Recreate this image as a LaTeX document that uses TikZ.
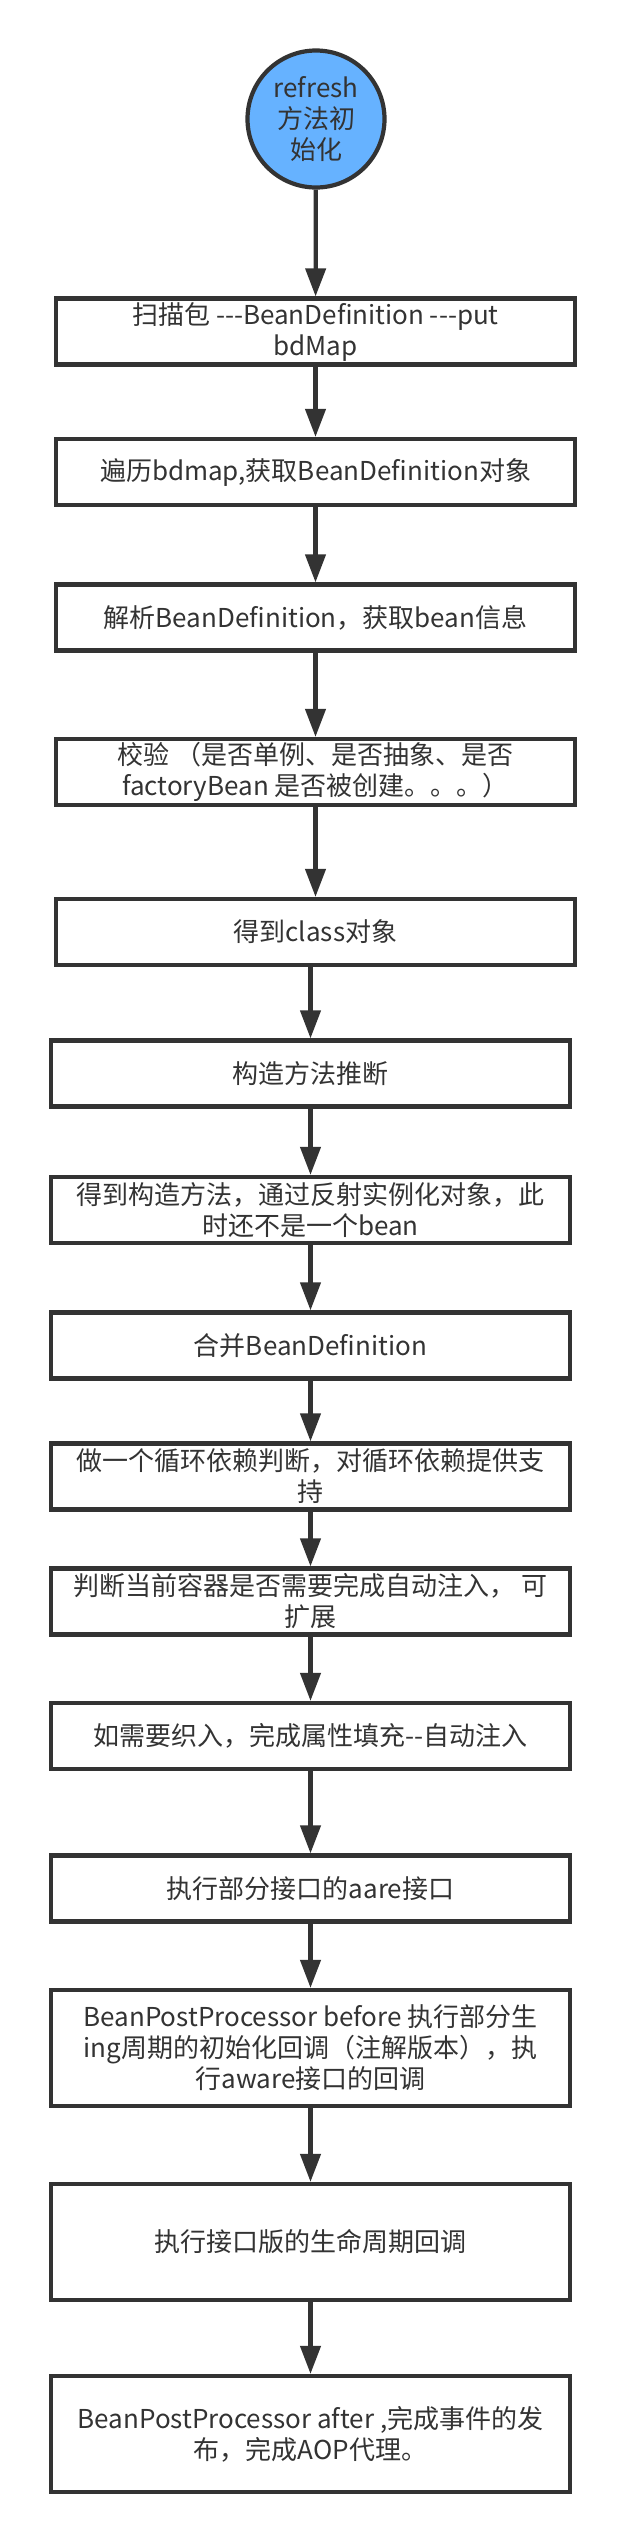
\documentclass[tikz,border=0pt]{standalone}
\usepackage{fontspec}
\newfontfamily\cjkfont{Noto Sans CJK SC}
\usetikzlibrary{arrows.meta}
\definecolor{ink}{HTML}{333333}
\definecolor{bluefill}{HTML}{66B2FF}
\begin{document}
\begin{tikzpicture}[x=1pt,y=-1pt,
  txt/.style={text=ink, align=center, font=\cjkfont\fontsize{26}{31}\selectfont},
  stepbox/.style={txt, draw=ink, line width=4.2pt, fill=white, minimum width=519pt, minimum height=66pt, inner sep=0pt},
  tallbox/.style={stepbox, minimum height=116pt},
  startnode/.style={txt, circle, draw=ink, fill=bluefill, line width=4.2pt, minimum size=137pt, inner sep=0pt},
  flow/.style={draw=ink, line width=4.2pt, -{Triangle[length=28pt,width=20pt]}}]
\useasboundingbox (0,0) rectangle (626,2544);
\fill[white] (0,0) rectangle (626,2544);

\node[startnode] (s) at (316,119) {refresh\\方法初\\始化};

\node[stepbox] (b1) at (315.5,331.5) {扫描包 ---BeanDefinition ---put\\bdMap};
\node[stepbox] (b2) at (315.5,472) {遍历bdmap,获取BeanDefinition对象};
\node[stepbox] (b3) at (315.5,617.5) {解析BeanDefinition，获取bean信息};
\node[stepbox] (b4) at (315.5,772) {校验 （是否单例、是否抽象、是否\\factoryBean 是否被创建。。。）};
\node[stepbox] (b5) at (315.5,932) {得到class对象};
\node[stepbox] (b6) at (310.5,1073.5) {构造方法推断};
\node[stepbox] (b7) at (310.5,1210) {得到构造方法，通过反射实例化对象，此\\时还不是一个bean};
\node[stepbox] (b8) at (310.5,1345.5) {合并BeanDefinition};
\node[stepbox] (b9) at (310.5,1476.5) {做一个循环依赖判断，对循环依赖提供支\\持};
\node[stepbox] (b10) at (310.5,1601.5) {判断当前容器是否需要完成自动注入， 可\\扩展};
\node[stepbox] (b11) at (310.5,1736) {如需要织入，完成属性填充--自动注入};
\node[stepbox] (b12) at (310.5,1888.5) {执行部分接口的aare接口};
\node[tallbox] (b13) at (310.5,2048) {BeanPostProcessor before 执行部分生\\ing周期的初始化回调（注解版本），执\\行aware接口的回调};
\node[tallbox] (b14) at (310.5,2242) {执行接口版的生命周期回调};
\node[tallbox] (b15) at (310.5,2434) {BeanPostProcessor after ,完成事件的发\\布，完成AOP代理。};

\draw[flow] (s) -- (b1);
\draw[flow] (b1) -- (b2);
\draw[flow] (b2) -- (b3);
\draw[flow] (b3) -- (b4);
\draw[flow] (b4) -- (b5);
\draw[flow] (b5.south -| b6.north) -- (b6.north);
\draw[flow] (b6) -- (b7);
\draw[flow] (b7) -- (b8);
\draw[flow] (b8) -- (b9);
\draw[flow] (b9) -- (b10);
\draw[flow] (b10) -- (b11);
\draw[flow] (b11) -- (b12);
\draw[flow] (b12) -- (b13);
\draw[flow] (b13) -- (b14);
\draw[flow] (b14) -- (b15);
\end{tikzpicture}
\end{document}
